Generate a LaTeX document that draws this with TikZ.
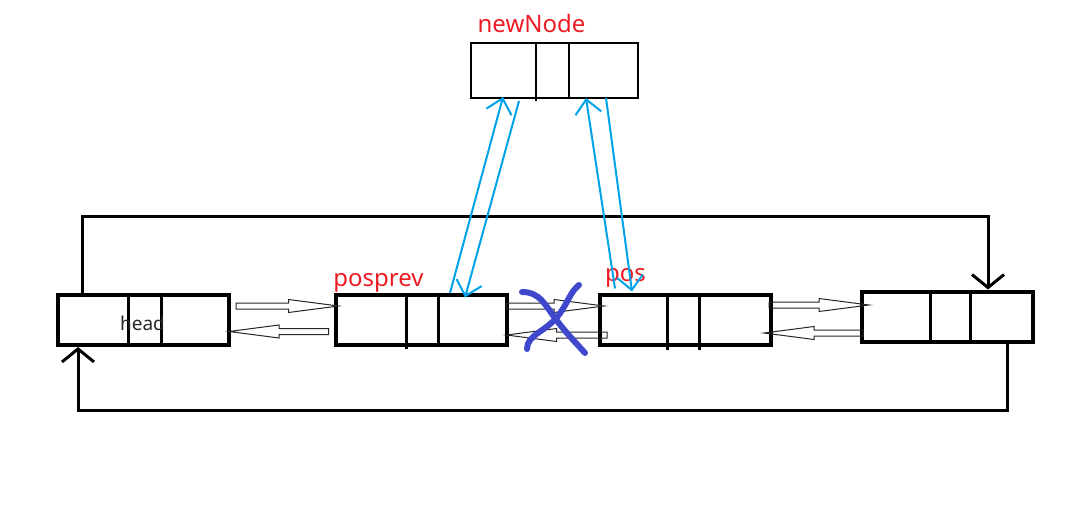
\documentclass[tikz,border=0pt]{standalone}
\usepackage{fontspec}
\setmainfont{Noto Sans}
\usepackage{xcolor}
\usetikzlibrary{arrows.meta,calc}

\definecolor{paintred}{RGB}{237,28,36}
\definecolor{paintblue}{RGB}{0,162,232}
\definecolor{paintindigo}{RGB}{63,72,204}

\begin{document}
\begin{tikzpicture}[
  x=1pt, y=-1pt,
  cell/.style   ={draw, line width=4pt, minimum width=171pt, minimum height=50pt, inner sep=0pt},
  newcell/.style={draw, line width=2pt, minimum width=167pt, minimum height=55pt, inner sep=0pt},
  bar/.style    ={line width=3pt},
  lbl/.style    ={text=paintred, font=\fontsize{24}{28}\selectfont, inner sep=0pt},
  ring/.style   ={line width=3pt, -{Straight Barb[length=13pt,width=32pt]}},
  link/.style   ={paintblue, line width=2pt, -{Straight Barb[length=14pt,width=26pt]}},
  hollow/.style ={draw=black!85, line width=1pt, to path={
      let \p1=(\tikztostart), \p2=(\tikztotarget), \n1={50*sign(\x2-\x1)} in
      (\x1,\y1+3pt) -- ({\x2-(\n1)},\y1+3pt) -- ({\x2-(\n1)},\y1+6.5pt) -- (\x2,\y1)
      -- ({\x2-(\n1)},\y1-6.5pt) -- ({\x2-(\n1)},\y1-3pt) -- (\x1,\y1-3pt) -- cycle}},
  cross/.style  ={paintindigo, line width=6pt, line cap=round}
]
    \useasboundingbox (0,0) rectangle (1073,519);

    % the list nodes
    \node[cell]    (head)    at (143.5,320)  {};
    \node[cell]    (posprev) at (421,320)    {};
    \node[cell]    (pos)     at (685,320)    {};
    \node[cell]    (last)    at (947,316.5)  {};
    \node[newcell] (newNode) at (554.5,70.5) {};

    % fields inside the nodes
    \draw[bar] ([xshift=-15.5pt]head.north) -- ([xshift=-15.5pt]head.south);
    \draw[bar] ([xshift=17.5pt]head.north)  -- ([xshift=17.5pt]head.south);
    \draw[bar] ([xshift=-15pt]posprev.north) -- ([xshift=-15pt,yshift=-2pt]posprev.south);
    \draw[bar] ([xshift=17pt]posprev.north)  -- ([xshift=17pt]posprev.south);
    \draw[bar] ([xshift=-18pt]pos.north) -- ([xshift=-18pt,yshift=-3pt]pos.south);
    \draw[bar] ([xshift=14pt]pos.north)  -- ([xshift=14pt,yshift=-3pt]pos.south);
    \draw[bar] ([xshift=-17pt]last.north) -- ([xshift=-17pt]last.south);
    \draw[bar] ([xshift=23pt]last.north)  -- ([xshift=23pt]last.south);
    \draw[bar, line width=2.5pt] ([xshift=-18.5pt]newNode.north) -- ([xshift=-18.5pt,yshift=-2pt]newNode.south);
    \draw[bar, line width=2.5pt] ([xshift=14.5pt]newNode.north)  -- ([xshift=14.5pt]newNode.south);

    % labels
    \node[lbl] (newNodeLbl) at (531.5,24)  {newNode};
    \node[lbl] (posprevLbl) at (378.5,283) {posprev};
    \node[lbl] (posLbl)     at (625.5,278) {pos};
    \node[font=\fontsize{19}{22}\selectfont, text=black!85, inner sep=0pt] (headLbl) at (142.5,323.5) {head};

    % circular links
    \coordinate (ringTR) at (988,216);
    \coordinate (ringBL) at (78,410);
    \draw[ring] ([xshift=-61.5pt]head.north) |- (ringTR) -- ([xshift=41pt]last.north);
    \draw[ring] ([xshift=60pt]last.south) |- (ringBL) -- ([xshift=-65.5pt]head.south);

    % next / prev pointers
    \draw[hollow] ([xshift=5pt,yshift=14pt]head.east) to ([xshift=5pt,yshift=14pt]posprev.west);
    \draw[hollow] ([xshift=-5pt,yshift=-11.5pt]posprev.west) to ([xshift=-2pt,yshift=-11.5pt]head.east);
    \draw[hollow] ([xshift=-2pt,yshift=14pt]posprev.east) to ([xshift=6.5pt,yshift=14pt]pos.west);
    \draw[hollow] ([xshift=9.5pt,yshift=-15pt]pos.west) to ([xshift=-2pt,yshift=-15pt]posprev.east);
    \draw[hollow] ([xshift=-3.5pt,yshift=15pt]pos.east) to ([xshift=9.5pt,yshift=11.5pt]last.west);
    \draw[hollow] ([xshift=3.5pt,yshift=-16.5pt]last.west) to ([xshift=-8.5pt,yshift=-13pt]pos.east);

    % new links through newNode
    \draw[link] ([xshift=29pt]posprev.north) -- ([xshift=-51.5pt,yshift=2pt]newNode.south);
    \draw[link] ([xshift=-35.5pt,yshift=-2pt]newNode.south) -- ([xshift=44pt,yshift=-4.5pt]posprev.north);
    \draw[link] ([xshift=-70pt,yshift=4.5pt]pos.north) -- ([xshift=31.5pt,yshift=1pt]newNode.south);
    \draw[link] ([xshift=51.5pt,yshift=1pt]newNode.south) -- ([xshift=-53pt,yshift=1.5pt]pos.north);

    % old link crossed out
    \draw[cross] (522,292) .. controls (540,292) and (545,305) .. (555,318)
                 .. controls (565,332) and (578,345) .. (585,353);
    \draw[cross] (579,285) .. controls (570,292) and (568,303) .. (558,316)
                 .. controls (545,332) and (527,335) .. (527,349);
\end{tikzpicture}
\end{document}
